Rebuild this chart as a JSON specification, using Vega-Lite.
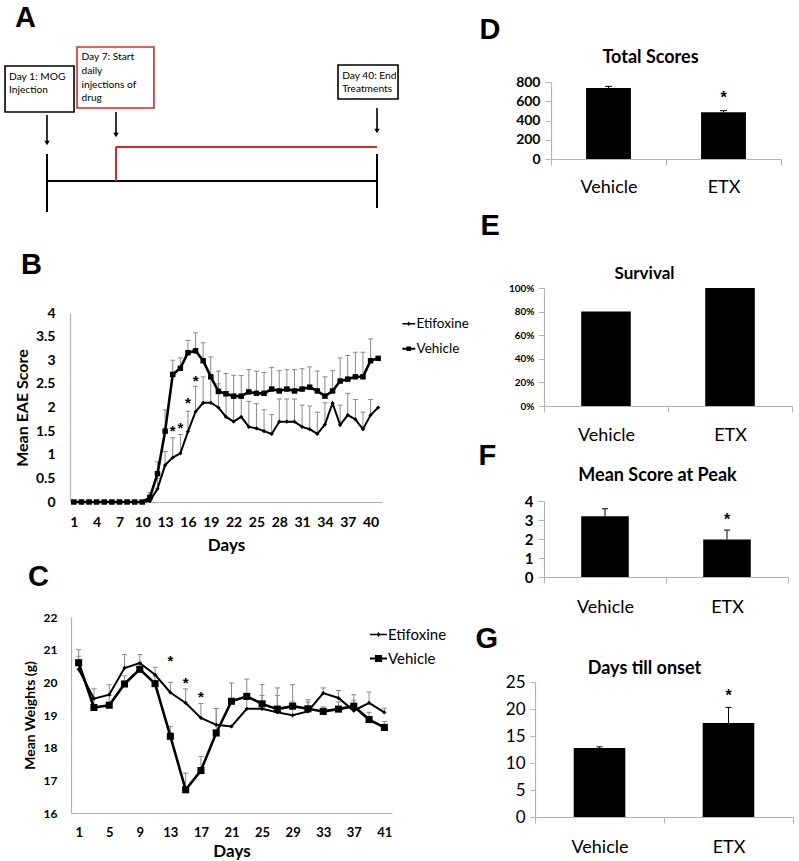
{
  "$schema": "https://vega.github.io/schema/vega-lite/v6.json",
  "width": 799,
  "height": 861,
  "padding": 0,
  "autosize": {"type": "none"},
  "background": "white",
  "config": {
    "view": {"stroke": null},
    "axis": {"grid": false, "labelFont": "Lato", "titleFont": "Lato", "labelColor": "black", "titleColor": "black", "titleFontWeight": "bold", "domainColor": "#b4b4b4", "tickColor": "#b4b4b4", "domainWidth": 1.2},
    "text": {"font": "Lato"}
  },
  "datasets": {
    "aBoxes": [
      {"kind": "timeline", "t": -2.65, "t2": 3.35, "v": 66, "v2": 112},
      {"kind": "drug", "t": 3.61, "t2": 11.8, "v": 47, "v2": 108},
      {"kind": "timeline", "t": 35.07, "t2": 42.66, "v": 65, "v2": 99}
    ],
    "aLines": [
      {"kind": "timeline", "t": 1, "t2": 40, "v": 181, "v2": 181},
      {"kind": "timeline", "t": 1, "t2": 1, "v": 154, "v2": 212},
      {"kind": "timeline", "t": 40, "t2": 40, "v": 154, "v2": 208},
      {"kind": "drug", "t": 7, "t2": 40, "v": 147, "v2": 147},
      {"kind": "drug", "t": 7, "t2": 7, "v": 147, "v2": 181}
    ],
    "aArrows": [
      {"t": 1, "v": 115, "v2": 141, "head": 143},
      {"t": 7, "v": 112, "v2": 133, "head": 135},
      {"t": 40, "v": 108, "v2": 129, "head": 131}
    ],
    "aText": [
      {"t": -2.3, "v": 77, "text": "Day 1: MOG"},
      {"t": -2.3, "v": 90, "text": "Injection"},
      {"t": 4.0, "v": 57, "text": "Day 7: Start"},
      {"t": 4.0, "v": 71, "text": "daily"},
      {"t": 4.0, "v": 85, "text": "injections of"},
      {"t": 4.0, "v": 98, "text": "drug"},
      {"t": 35.6, "v": 76, "text": "Day 40: End"},
      {"t": 35.6, "v": 89, "text": "Treatments"}
    ],
    "aLetter": [{"t": -1.78, "v": 18, "text": "A"}],
    "eae": [
      {"day": 1, "group": "Etifoxine", "score": 0}, {"day": 2, "group": "Etifoxine", "score": 0}, {"day": 3, "group": "Etifoxine", "score": 0}, {"day": 4, "group": "Etifoxine", "score": 0}, {"day": 5, "group": "Etifoxine", "score": 0},
      {"day": 6, "group": "Etifoxine", "score": 0}, {"day": 7, "group": "Etifoxine", "score": 0}, {"day": 8, "group": "Etifoxine", "score": 0}, {"day": 9, "group": "Etifoxine", "score": 0}, {"day": 10, "group": "Etifoxine", "score": 0},
      {"day": 11, "group": "Etifoxine", "score": 0.02},
      {"day": 12, "group": "Etifoxine", "score": 0.28, "upper": 0.5},
      {"day": 13, "group": "Etifoxine", "score": 0.78, "upper": 1.07},
      {"day": 14, "group": "Etifoxine", "score": 0.94, "upper": 1.36},
      {"day": 15, "group": "Etifoxine", "score": 1.03, "upper": 1.43},
      {"day": 16, "group": "Etifoxine", "score": 1.49, "upper": 1.92},
      {"day": 17, "group": "Etifoxine", "score": 1.91, "upper": 2.45},
      {"day": 18, "group": "Etifoxine", "score": 2.1, "upper": 2.65},
      {"day": 19, "group": "Etifoxine", "score": 2.1, "upper": 2.65},
      {"day": 20, "group": "Etifoxine", "score": 2.0, "upper": 2.5},
      {"day": 21, "group": "Etifoxine", "score": 1.8, "upper": 2.3},
      {"day": 22, "group": "Etifoxine", "score": 1.7, "upper": 2.2},
      {"day": 23, "group": "Etifoxine", "score": 1.8, "upper": 2.25},
      {"day": 24, "group": "Etifoxine", "score": 1.59, "upper": 2.13},
      {"day": 25, "group": "Etifoxine", "score": 1.56, "upper": 2.08},
      {"day": 26, "group": "Etifoxine", "score": 1.5, "upper": 1.95},
      {"day": 27, "group": "Etifoxine", "score": 1.44, "upper": 1.85},
      {"day": 28, "group": "Etifoxine", "score": 1.7, "upper": 2.18},
      {"day": 29, "group": "Etifoxine", "score": 1.7, "upper": 2.18},
      {"day": 30, "group": "Etifoxine", "score": 1.7, "upper": 2.18},
      {"day": 31, "group": "Etifoxine", "score": 1.59, "upper": 2.05},
      {"day": 32, "group": "Etifoxine", "score": 1.54, "upper": 2.03},
      {"day": 33, "group": "Etifoxine", "score": 1.44, "upper": 1.9},
      {"day": 34, "group": "Etifoxine", "score": 1.64, "upper": 2.1},
      {"day": 35, "group": "Etifoxine", "score": 2.09},
      {"day": 36, "group": "Etifoxine", "score": 1.63, "upper": 2.05},
      {"day": 37, "group": "Etifoxine", "score": 1.84, "upper": 2.3},
      {"day": 38, "group": "Etifoxine", "score": 1.75, "upper": 2.17},
      {"day": 39, "group": "Etifoxine", "score": 1.54, "upper": 1.9},
      {"day": 40, "group": "Etifoxine", "score": 1.84, "upper": 2.17},
      {"day": 41, "group": "Etifoxine", "score": 2.0},
      {"day": 1, "group": "Vehicle", "score": 0}, {"day": 2, "group": "Vehicle", "score": 0}, {"day": 3, "group": "Vehicle", "score": 0}, {"day": 4, "group": "Vehicle", "score": 0}, {"day": 5, "group": "Vehicle", "score": 0},
      {"day": 6, "group": "Vehicle", "score": 0}, {"day": 7, "group": "Vehicle", "score": 0}, {"day": 8, "group": "Vehicle", "score": 0}, {"day": 9, "group": "Vehicle", "score": 0}, {"day": 10, "group": "Vehicle", "score": 0},
      {"day": 11, "group": "Vehicle", "score": 0.1, "upper": 0.2},
      {"day": 12, "group": "Vehicle", "score": 0.6, "upper": 0.85},
      {"day": 13, "group": "Vehicle", "score": 1.5, "upper": 1.95},
      {"day": 14, "group": "Vehicle", "score": 2.7, "upper": 3.0},
      {"day": 15, "group": "Vehicle", "score": 2.83, "upper": 3.05},
      {"day": 16, "group": "Vehicle", "score": 3.16, "upper": 3.42},
      {"day": 17, "group": "Vehicle", "score": 3.2, "upper": 3.58},
      {"day": 18, "group": "Vehicle", "score": 2.99, "upper": 3.37},
      {"day": 19, "group": "Vehicle", "score": 2.65, "upper": 3.07},
      {"day": 20, "group": "Vehicle", "score": 2.34, "upper": 2.77},
      {"day": 21, "group": "Vehicle", "score": 2.29, "upper": 2.72},
      {"day": 22, "group": "Vehicle", "score": 2.24, "upper": 2.68},
      {"day": 23, "group": "Vehicle", "score": 2.24, "upper": 2.68},
      {"day": 24, "group": "Vehicle", "score": 2.33, "upper": 2.8},
      {"day": 25, "group": "Vehicle", "score": 2.3, "upper": 2.77},
      {"day": 26, "group": "Vehicle", "score": 2.3, "upper": 2.74},
      {"day": 27, "group": "Vehicle", "score": 2.39, "upper": 2.85},
      {"day": 28, "group": "Vehicle", "score": 2.35, "upper": 2.78},
      {"day": 29, "group": "Vehicle", "score": 2.39, "upper": 2.8},
      {"day": 30, "group": "Vehicle", "score": 2.35, "upper": 2.8},
      {"day": 31, "group": "Vehicle", "score": 2.39, "upper": 2.82},
      {"day": 32, "group": "Vehicle", "score": 2.43, "upper": 2.86},
      {"day": 33, "group": "Vehicle", "score": 2.35, "upper": 2.77},
      {"day": 34, "group": "Vehicle", "score": 2.24, "upper": 2.65},
      {"day": 35, "group": "Vehicle", "score": 2.35, "upper": 2.78},
      {"day": 36, "group": "Vehicle", "score": 2.56, "upper": 3.05},
      {"day": 37, "group": "Vehicle", "score": 2.6, "upper": 3.1},
      {"day": 38, "group": "Vehicle", "score": 2.65, "upper": 3.17},
      {"day": 39, "group": "Vehicle", "score": 2.65, "upper": 3.17},
      {"day": 40, "group": "Vehicle", "score": 2.99, "upper": 3.45},
      {"day": 41, "group": "Vehicle", "score": 3.04}
    ],
    "eaeStars": [
      {"day": 14, "score": 1.5}, {"day": 15, "score": 1.57}, {"day": 16, "score": 2.1}, {"day": 17, "score": 2.57}
    ],
    "eaeLetter": [{"day": -5.94, "score": 5.02, "text": "B"}],
    "weight": [
      {"day": 1, "group": "Etifoxine", "w": 20.4, "upper": 21.0},
      {"day": 3, "group": "Etifoxine", "w": 19.5, "upper": 19.8},
      {"day": 5, "group": "Etifoxine", "w": 19.62, "upper": 19.93},
      {"day": 7, "group": "Etifoxine", "w": 20.44, "upper": 20.85},
      {"day": 9, "group": "Etifoxine", "w": 20.59, "upper": 20.85},
      {"day": 11, "group": "Etifoxine", "w": 20.23, "upper": 20.46},
      {"day": 13, "group": "Etifoxine", "w": 19.69, "upper": 20.0},
      {"day": 15, "group": "Etifoxine", "w": 19.37, "upper": 19.8},
      {"day": 17, "group": "Etifoxine", "w": 18.91, "upper": 19.35},
      {"day": 19, "group": "Etifoxine", "w": 18.7, "upper": 19.2},
      {"day": 21, "group": "Etifoxine", "w": 18.65},
      {"day": 23, "group": "Etifoxine", "w": 19.19, "upper": 19.5},
      {"day": 25, "group": "Etifoxine", "w": 19.19, "upper": 19.6},
      {"day": 27, "group": "Etifoxine", "w": 19.08, "upper": 19.6},
      {"day": 29, "group": "Etifoxine", "w": 18.99, "upper": 19.4},
      {"day": 31, "group": "Etifoxine", "w": 19.11, "upper": 19.47},
      {"day": 33, "group": "Etifoxine", "w": 19.67, "upper": 19.83},
      {"day": 35, "group": "Etifoxine", "w": 19.52, "upper": 19.75},
      {"day": 37, "group": "Etifoxine", "w": 19.13, "upper": 19.45},
      {"day": 39, "group": "Etifoxine", "w": 19.37, "upper": 19.7},
      {"day": 41, "group": "Etifoxine", "w": 19.08, "upper": 19.21},
      {"day": 1, "group": "Vehicle", "w": 20.6, "upper": 20.8},
      {"day": 3, "group": "Vehicle", "w": 19.23, "upper": 19.52},
      {"day": 5, "group": "Vehicle", "w": 19.3, "upper": 19.6},
      {"day": 7, "group": "Vehicle", "w": 19.95, "upper": 20.2},
      {"day": 9, "group": "Vehicle", "w": 20.4, "upper": 20.6},
      {"day": 11, "group": "Vehicle", "w": 19.96, "upper": 20.2},
      {"day": 13, "group": "Vehicle", "w": 18.35, "upper": 18.65},
      {"day": 15, "group": "Vehicle", "w": 16.71, "upper": 17.22},
      {"day": 17, "group": "Vehicle", "w": 17.3, "upper": 17.73},
      {"day": 19, "group": "Vehicle", "w": 18.45, "upper": 19.2},
      {"day": 21, "group": "Vehicle", "w": 19.42, "upper": 19.98},
      {"day": 23, "group": "Vehicle", "w": 19.57, "upper": 20.1},
      {"day": 25, "group": "Vehicle", "w": 19.34, "upper": 19.93},
      {"day": 27, "group": "Vehicle", "w": 19.18, "upper": 19.83},
      {"day": 29, "group": "Vehicle", "w": 19.27, "upper": 19.93},
      {"day": 31, "group": "Vehicle", "w": 19.19, "upper": 19.4},
      {"day": 33, "group": "Vehicle", "w": 19.11, "upper": 19.25},
      {"day": 35, "group": "Vehicle", "w": 19.18, "upper": 19.4},
      {"day": 37, "group": "Vehicle", "w": 19.27, "upper": 19.62},
      {"day": 39, "group": "Vehicle", "w": 18.86, "upper": 19.08},
      {"day": 41, "group": "Vehicle", "w": 18.62, "upper": 18.8}
    ],
    "weightStars": [{"day": 13, "w": 20.64}, {"day": 15, "w": 19.98}, {"day": 17, "w": 19.54}],
    "weightLetter": [{"day": -5.63, "w": 23.22, "text": "C"}],
    "totalScores": [
      {"group": "Vehicle", "value": 738, "upper": 755},
      {"group": "ETX", "value": 485, "upper": 502, "star": 634}
    ],
    "survival": [
      {"group": "Vehicle", "value": 0.8},
      {"group": "ETX", "value": 1.0}
    ],
    "peak": [
      {"group": "Vehicle", "value": 3.2, "upper": 3.59},
      {"group": "ETX", "value": 1.97, "upper": 2.47, "star": 3.0}
    ],
    "onset": [
      {"group": "Vehicle", "value": 12.8, "upper": 13.0},
      {"group": "ETX", "value": 17.4, "upper": 20.3, "star": 22.4}
    ]
  },
  "layer": [
    {
      "layer": [
        {
          "data": {"name": "aBoxes"},
          "mark": {"type": "rect", "fill": "white", "strokeWidth": 1.6},
          "encoding": {
            "x": {"field": "t", "type": "quantitative", "scale": {"domain": [1, 7, 40], "range": [47, 116, 377], "zero": false, "nice": false}, "axis": null},
            "x2": {"field": "t2"},
            "y": {"field": "v", "type": "quantitative", "scale": {"domain": [0, 220], "range": [0, 220], "zero": false, "nice": false}, "axis": null},
            "y2": {"field": "v2"},
            "stroke": {"field": "kind", "type": "nominal", "scale": {"domain": ["timeline", "drug"], "range": ["black", "#d8282d"]}, "legend": null}
          }
        },
        {
          "data": {"name": "aLines"},
          "mark": {"type": "rule", "strokeWidth": 2},
          "encoding": {
            "x": {"field": "t", "type": "quantitative"},
            "x2": {"field": "t2"},
            "y": {"field": "v", "type": "quantitative"},
            "y2": {"field": "v2"},
            "stroke": {"field": "kind", "type": "nominal", "legend": null}
          }
        },
        {
          "data": {"name": "aArrows"},
          "mark": {"type": "rule", "color": "black", "strokeWidth": 1.6},
          "encoding": {
            "x": {"field": "t", "type": "quantitative"},
            "y": {"field": "v", "type": "quantitative"},
            "y2": {"field": "v2"}
          }
        },
        {
          "data": {"name": "aArrows"},
          "mark": {"type": "point", "shape": "triangle-down", "filled": true, "color": "black", "size": 30, "opacity": 1},
          "encoding": {
            "x": {"field": "t", "type": "quantitative"},
            "y": {"field": "head", "type": "quantitative"}
          }
        },
        {
          "data": {"name": "aText"},
          "mark": {"type": "text", "align": "left", "baseline": "middle", "font": "Lato", "fontSize": 10.2, "color": "black"},
          "encoding": {
            "x": {"field": "t", "type": "quantitative"},
            "y": {"field": "v", "type": "quantitative"},
            "text": {"field": "text"}
          }
        },
        {
          "data": {"name": "aLetter"},
          "mark": {"type": "text", "align": "left", "baseline": "middle", "font": "Liberation Sans", "fontSize": 29, "fontWeight": "bold", "color": "black"},
          "encoding": {
            "x": {"field": "t", "type": "quantitative"},
            "y": {"field": "v", "type": "quantitative"},
            "text": {"field": "text"}
          }
        }
      ]
    },
    {
      "layer": [
        {
          "data": {"name": "eae"},
          "transform": [{"filter": "isValid(datum.upper)"}],
          "mark": {"type": "rule", "color": "#8a8a8a", "strokeWidth": 1},
          "encoding": {
            "x": {"field": "day", "type": "quantitative", "scale": {"domain": [0.5, 41.5], "range": [70, 382], "zero": false, "nice": false},
              "axis": {"orient": "bottom", "offset": -359, "values": [1, 4, 7, 10, 13, 16, 19, 22, 25, 28, 31, 34, 37, 40], "title": "Days", "ticks": false, "tickSize": 0, "labelFlush": false, "labelOverlap": false, "labelFontSize": 14, "labelFontWeight": "bold", "labelBaseline": "middle", "labelPadding": 20, "titleFontSize": 17, "titlePadding": 8}},
            "y": {"field": "score", "type": "quantitative", "scale": {"domain": [0, 4], "range": [502, 313], "zero": false, "nice": false},
              "axis": {"orient": "left", "offset": -70, "values": [0, 0.5, 1, 1.5, 2, 2.5, 3, 3.5, 4], "format": "~g", "title": "Mean EAE Score", "ticks": false, "tickSize": 0, "labelFontSize": 14, "labelFontWeight": "bold", "labelPadding": 15, "titleFontSize": 16, "titlePadding": 5}},
            "y2": {"field": "upper"}
          }
        },
        {
          "data": {"name": "eae"},
          "transform": [{"filter": "isValid(datum.upper)"}],
          "mark": {"type": "tick", "color": "#8a8a8a", "orient": "horizontal", "size": 5, "thickness": 1, "opacity": 1},
          "encoding": {
            "x": {"field": "day", "type": "quantitative"},
            "y": {"field": "upper", "type": "quantitative"}
          }
        },
        {
          "data": {"name": "eae"},
          "transform": [{"filter": "datum.group == 'Etifoxine'"}],
          "mark": {"type": "line", "color": "black", "strokeWidth": 2},
          "encoding": {
            "x": {"field": "day", "type": "quantitative"},
            "y": {"field": "score", "type": "quantitative"}
          }
        },
        {
          "data": {"name": "eae"},
          "transform": [{"filter": "datum.group == 'Vehicle'"}],
          "mark": {"type": "line", "color": "black", "strokeWidth": 2.6},
          "encoding": {
            "x": {"field": "day", "type": "quantitative"},
            "y": {"field": "score", "type": "quantitative"}
          }
        },
        {
          "data": {"name": "eae"},
          "transform": [{"filter": "datum.group == 'Etifoxine'"}],
          "mark": {"type": "point", "shape": "diamond", "filled": true, "color": "black", "size": 18, "opacity": 1},
          "encoding": {
            "x": {"field": "day", "type": "quantitative"},
            "y": {"field": "score", "type": "quantitative"}
          }
        },
        {
          "data": {"name": "eae"},
          "transform": [{"filter": "datum.group == 'Vehicle'"}],
          "mark": {"type": "point", "shape": "square", "filled": true, "color": "black", "size": 30, "opacity": 1},
          "encoding": {
            "x": {"field": "day", "type": "quantitative"},
            "y": {"field": "score", "type": "quantitative"}
          }
        },
        {
          "data": {"name": "eae"},
          "transform": [{"filter": "false"}],
          "mark": {"type": "point", "filled": true, "color": "black", "opacity": 1},
          "encoding": {
            "x": {"field": "day", "type": "quantitative"},
            "y": {"field": "score", "type": "quantitative"},
            "shape": {"field": "group", "type": "nominal",
              "scale": {"domain": ["Etifoxine", "Vehicle"], "range": ["M-1,-0.13H1V0.13H-1ZM0,-0.34L0.26,0L0,0.34L-0.26,0Z", "M-1,-0.15H1V0.15H-1ZM-0.36,-0.36H0.36V0.36H-0.36Z"]},
              "legend": {"orient": "none", "legendX": 402, "legendY": 317, "title": null, "labelFont": "Lato", "labelFontSize": 13.5, "labelColor": "black", "labelOffset": 1, "rowPadding": 10, "symbolSize": 169,
                "symbolFillColor": "black", "symbolStrokeWidth": 0, "symbolOpacity": 1}}
          }
        },
        {
          "data": {"name": "eaeStars"},
          "mark": {"type": "text", "text": "*", "font": "Liberation Sans", "fontSize": 15, "fontWeight": "bold", "baseline": "middle", "color": "black"},
          "encoding": {
            "x": {"field": "day", "type": "quantitative"},
            "y": {"field": "score", "type": "quantitative"}
          }
        },
        {
          "data": {"name": "eaeLetter"},
          "mark": {"type": "text", "align": "left", "baseline": "middle", "font": "Liberation Sans", "fontSize": 29, "fontWeight": "bold", "color": "black"},
          "encoding": {
            "x": {"field": "day", "type": "quantitative"},
            "y": {"field": "score", "type": "quantitative"},
            "text": {"field": "text"}
          }
        }
      ]
    },
    {
      "layer": [
        {
          "data": {"name": "weight"},
          "transform": [{"filter": "isValid(datum.upper)"}],
          "mark": {"type": "rule", "color": "#8a8a8a", "strokeWidth": 1},
          "encoding": {
            "x": {"field": "day", "type": "quantitative", "scale": {"domain": [0, 42], "range": [71, 392], "zero": false, "nice": false},
              "axis": {"orient": "bottom", "offset": -48, "values": [1, 5, 9, 13, 17, 21, 25, 29, 33, 37, 41], "title": "Days", "ticks": false, "tickSize": 0, "labelFlush": false, "labelOverlap": false, "labelFontSize": 13, "labelFontWeight": "bold", "labelBaseline": "middle", "labelPadding": 19, "titleFontSize": 17, "titlePadding": 4}},
            "y": {"field": "w", "type": "quantitative", "scale": {"domain": [16, 22], "range": [813, 617], "zero": false, "nice": false},
              "axis": {"orient": "left", "offset": -71, "values": [16, 17, 18, 19, 20, 21, 22], "format": "d", "title": "Mean Weights (g)", "ticks": false, "tickSize": 0, "labelFontSize": 12, "labelFontWeight": "bold", "labelPadding": 14, "titleFontSize": 14, "titlePadding": 6}},
            "y2": {"field": "upper"}
          }
        },
        {
          "data": {"name": "weight"},
          "transform": [{"filter": "isValid(datum.upper)"}],
          "mark": {"type": "tick", "color": "#8a8a8a", "orient": "horizontal", "size": 5, "thickness": 1, "opacity": 1},
          "encoding": {
            "x": {"field": "day", "type": "quantitative"},
            "y": {"field": "upper", "type": "quantitative"}
          }
        },
        {
          "data": {"name": "weight"},
          "transform": [{"filter": "datum.group == 'Etifoxine'"}],
          "mark": {"type": "line", "color": "black", "strokeWidth": 2},
          "encoding": {
            "x": {"field": "day", "type": "quantitative"},
            "y": {"field": "w", "type": "quantitative"}
          }
        },
        {
          "data": {"name": "weight"},
          "transform": [{"filter": "datum.group == 'Vehicle'"}],
          "mark": {"type": "line", "color": "black", "strokeWidth": 2.6},
          "encoding": {
            "x": {"field": "day", "type": "quantitative"},
            "y": {"field": "w", "type": "quantitative"}
          }
        },
        {
          "data": {"name": "weight"},
          "transform": [{"filter": "datum.group == 'Etifoxine'"}],
          "mark": {"type": "point", "shape": "diamond", "filled": true, "color": "black", "size": 18, "opacity": 1},
          "encoding": {
            "x": {"field": "day", "type": "quantitative"},
            "y": {"field": "w", "type": "quantitative"}
          }
        },
        {
          "data": {"name": "weight"},
          "transform": [{"filter": "datum.group == 'Vehicle'"}],
          "mark": {"type": "point", "shape": "square", "filled": true, "color": "black", "size": 50, "opacity": 1},
          "encoding": {
            "x": {"field": "day", "type": "quantitative"},
            "y": {"field": "w", "type": "quantitative"}
          }
        },
        {
          "data": {"name": "weight"},
          "transform": [{"filter": "false"}],
          "mark": {"type": "point", "filled": true, "color": "black", "opacity": 1},
          "encoding": {
            "x": {"field": "day", "type": "quantitative"},
            "y": {"field": "w", "type": "quantitative"},
            "shape": {"field": "group", "type": "nominal",
              "scale": {"domain": ["Etifoxine", "Vehicle"], "range": ["M-1,-0.1H1V0.1H-1ZM0,-0.3L0.22,0L0,0.3L-0.22,0Z", "M-1,-0.13H1V0.13H-1ZM-0.42,-0.42H0.42V0.42H-0.42Z"]},
              "legend": {"orient": "none", "legendX": 370, "legendY": 626, "title": null, "labelFont": "Lato", "labelFontSize": 15, "labelColor": "black", "labelOffset": 1, "rowPadding": 7, "symbolSize": 289,
                "symbolFillColor": "black", "symbolStrokeWidth": 0, "symbolOpacity": 1}}
          }
        },
        {
          "data": {"name": "weightStars"},
          "mark": {"type": "text", "text": "*", "font": "Liberation Sans", "fontSize": 15, "fontWeight": "bold", "baseline": "middle", "color": "black"},
          "encoding": {
            "x": {"field": "day", "type": "quantitative"},
            "y": {"field": "w", "type": "quantitative"}
          }
        },
        {
          "data": {"name": "weightLetter"},
          "mark": {"type": "text", "align": "left", "baseline": "middle", "font": "Liberation Sans", "fontSize": 29, "fontWeight": "bold", "color": "black"},
          "encoding": {
            "x": {"field": "day", "type": "quantitative"},
            "y": {"field": "w", "type": "quantitative"},
            "text": {"field": "text"}
          }
        }
      ]
    },
    {
      "data": {"name": "totalScores"},
      "layer": [
        {
          "mark": {"type": "bar", "color": "black", "width": {"band": 0.39}},
          "encoding": {
            "x": {"field": "group", "type": "nominal", "sort": ["Vehicle", "ETX"], "scale": {"range": [551, 781], "paddingInner": 0, "paddingOuter": 0},
              "axis": {"orient": "bottom", "offset": -702, "labelAngle": 0, "tickBand": "extent", "tickSize": 6, "labelFontSize": 18, "labelFontWeight": "normal", "labelBaseline": "middle", "labelPadding": 22,
                "title": "Total Scores", "titleX": 650, "titleY": -102, "titleAngle": 0, "titleAlign": "center", "titleBaseline": "middle", "titleFontSize": 18}},
            "y": {"field": "value", "type": "quantitative", "scale": {"domain": [0, 800], "range": [159, 82], "nice": false},
              "axis": {"orient": "left", "offset": -551, "values": [0, 200, 400, 600, 800], "tickSize": 6, "labelFontSize": 14, "labelFontWeight": "bold", "labelPadding": 5,
                "title": "D", "titleX": -72, "titleY": 29, "titleAngle": 0, "titleAlign": "left", "titleBaseline": "middle", "titleFont": "Liberation Sans", "titleFontSize": 29}}
          }
        },
        {
          "mark": {"type": "rule", "color": "black", "strokeWidth": 1},
          "encoding": {
            "x": {"field": "group", "type": "nominal", "sort": ["Vehicle", "ETX"]},
            "y": {"field": "value", "type": "quantitative"},
            "y2": {"field": "upper"}
          }
        },
        {
          "mark": {"type": "tick", "color": "black", "orient": "horizontal", "size": 7, "thickness": 1, "opacity": 1},
          "encoding": {
            "x": {"field": "group", "type": "nominal", "sort": ["Vehicle", "ETX"]},
            "y": {"field": "upper", "type": "quantitative"}
          }
        },
        {
          "transform": [{"filter": "isValid(datum.star)"}],
          "mark": {"type": "text", "text": "*", "font": "Liberation Sans", "fontSize": 16, "fontWeight": "bold", "baseline": "middle", "color": "black"},
          "encoding": {
            "x": {"field": "group", "type": "nominal", "sort": ["Vehicle", "ETX"]},
            "y": {"field": "star", "type": "quantitative"}
          }
        }
      ]
    },
    {
      "data": {"name": "survival"},
      "layer": [
        {
          "mark": {"type": "bar", "color": "black", "width": {"band": 0.4}},
          "encoding": {
            "x": {"field": "group", "type": "nominal", "sort": ["Vehicle", "ETX"], "scale": {"range": [544, 792], "paddingInner": 0, "paddingOuter": 0},
              "axis": {"orient": "bottom", "offset": -455, "labelAngle": 0, "tickBand": "extent", "tickSize": 6, "labelFontSize": 18, "labelFontWeight": "normal", "labelBaseline": "middle", "labelPadding": 23,
                "title": "Survival", "titleX": 644, "titleY": -133, "titleAngle": 0, "titleAlign": "center", "titleBaseline": "middle", "titleFontSize": 17}},
            "y": {"field": "value", "type": "quantitative", "scale": {"domain": [0, 1], "range": [406, 288], "nice": false},
              "axis": {"orient": "left", "offset": -544, "values": [0, 0.2, 0.4, 0.6, 0.8, 1], "format": ".0%", "tickSize": 6, "labelFontSize": 10, "labelFontWeight": "bold", "labelPadding": 4,
                "title": "E", "titleX": -64, "titleY": 225, "titleAngle": 0, "titleAlign": "left", "titleBaseline": "middle", "titleFont": "Liberation Sans", "titleFontSize": 29}}
          }
        }
      ]
    },
    {
      "data": {"name": "peak"},
      "layer": [
        {
          "mark": {"type": "bar", "color": "black", "width": {"band": 0.39}},
          "encoding": {
            "x": {"field": "group", "type": "nominal", "sort": ["Vehicle", "ETX"], "scale": {"range": [544, 788], "paddingInner": 0, "paddingOuter": 0},
              "axis": {"orient": "bottom", "offset": -284, "labelAngle": 0, "tickBand": "extent", "tickSize": 6, "labelFontSize": 18, "labelFontWeight": "normal", "labelBaseline": "middle", "labelPadding": 24,
                "title": "Mean Score at Peak", "titleX": 657, "titleY": -102, "titleAngle": 0, "titleAlign": "center", "titleBaseline": "middle", "titleFontSize": 18}},
            "y": {"field": "value", "type": "quantitative", "scale": {"domain": [0, 4], "range": [577, 501], "nice": false},
              "axis": {"orient": "left", "offset": -544, "values": [0, 1, 2, 3, 4], "format": "d", "tickSize": 6, "labelFontSize": 15, "labelFontWeight": "bold", "labelPadding": 5,
                "title": "F", "titleX": -66, "titleY": 455, "titleAngle": 0, "titleAlign": "left", "titleBaseline": "middle", "titleFont": "Liberation Sans", "titleFontSize": 29}}
          }
        },
        {
          "mark": {"type": "rule", "color": "black", "strokeWidth": 1},
          "encoding": {
            "x": {"field": "group", "type": "nominal", "sort": ["Vehicle", "ETX"]},
            "y": {"field": "value", "type": "quantitative"},
            "y2": {"field": "upper"}
          }
        },
        {
          "mark": {"type": "tick", "color": "black", "orient": "horizontal", "size": 6, "thickness": 1, "opacity": 1},
          "encoding": {
            "x": {"field": "group", "type": "nominal", "sort": ["Vehicle", "ETX"]},
            "y": {"field": "upper", "type": "quantitative"}
          }
        },
        {
          "transform": [{"filter": "isValid(datum.star)"}],
          "mark": {"type": "text", "text": "*", "font": "Liberation Sans", "fontSize": 16, "fontWeight": "bold", "baseline": "middle", "color": "black"},
          "encoding": {
            "x": {"field": "group", "type": "nominal", "sort": ["Vehicle", "ETX"]},
            "y": {"field": "star", "type": "quantitative"}
          }
        }
      ]
    },
    {
      "data": {"name": "onset"},
      "layer": [
        {
          "mark": {"type": "bar", "color": "black", "width": {"band": 0.4}},
          "encoding": {
            "x": {"field": "group", "type": "nominal", "sort": ["Vehicle", "ETX"], "scale": {"range": [535, 793], "paddingInner": 0, "paddingOuter": 0},
              "axis": {"orient": "bottom", "offset": -44, "labelAngle": 0, "tickBand": "extent", "tickSize": 6, "labelFontSize": 18, "labelFontWeight": "normal", "labelBaseline": "middle", "labelPadding": 24,
                "title": "Days till onset", "titleX": 644, "titleY": -149, "titleAngle": 0, "titleAlign": "center", "titleBaseline": "middle", "titleFontSize": 18}},
            "y": {"field": "value", "type": "quantitative", "scale": {"domain": [0, 25], "range": [817, 682], "nice": false},
              "axis": {"orient": "left", "offset": -535, "values": [0, 5, 10, 15, 20, 25], "tickSize": 5, "labelFontSize": 17, "labelFontWeight": "normal", "labelPadding": 5,
                "title": "G", "titleX": -60, "titleY": 638, "titleAngle": 0, "titleAlign": "left", "titleBaseline": "middle", "titleFont": "Liberation Sans", "titleFontSize": 29}}
          }
        },
        {
          "mark": {"type": "rule", "color": "black", "strokeWidth": 1},
          "encoding": {
            "x": {"field": "group", "type": "nominal", "sort": ["Vehicle", "ETX"]},
            "y": {"field": "value", "type": "quantitative"},
            "y2": {"field": "upper"}
          }
        },
        {
          "mark": {"type": "tick", "color": "black", "orient": "horizontal", "size": 6, "thickness": 1, "opacity": 1},
          "encoding": {
            "x": {"field": "group", "type": "nominal", "sort": ["Vehicle", "ETX"]},
            "y": {"field": "upper", "type": "quantitative"}
          }
        },
        {
          "transform": [{"filter": "isValid(datum.star)"}],
          "mark": {"type": "text", "text": "*", "font": "Liberation Sans", "fontSize": 16, "fontWeight": "bold", "baseline": "middle", "color": "black"},
          "encoding": {
            "x": {"field": "group", "type": "nominal", "sort": ["Vehicle", "ETX"]},
            "y": {"field": "star", "type": "quantitative"}
          }
        }
      ]
    }
  ],
  "resolve": {"scale": {"x": "independent", "y": "independent", "shape": "independent"}}
}
